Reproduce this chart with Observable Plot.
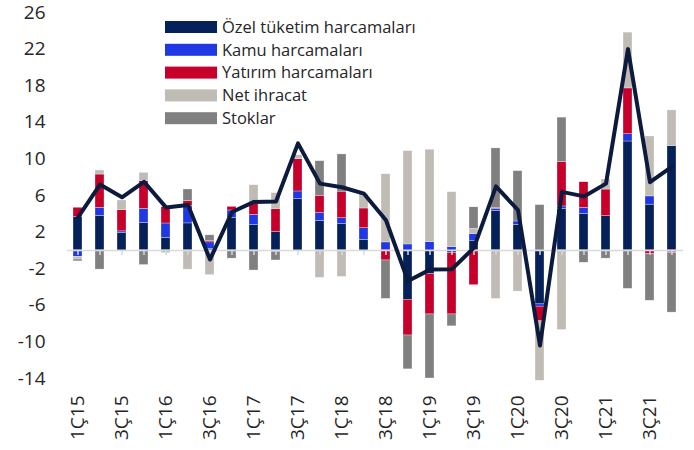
<!DOCTYPE html>
<html>
<head>
<meta charset="utf-8">
<script src="https://cdn.jsdelivr.net/npm/d3@7"></script>
<script src="https://cdn.jsdelivr.net/npm/@observablehq/plot@0.6"></script>
<style>
  body { margin: 0; background: #fff; }
  svg { display: block; overflow: visible; }
</style>
</head>
<body>
<div id="chart"></div>
<script>
const quarters = ["1Ç15","2Ç15","3Ç15","4Ç15","1Ç16","2Ç16","3Ç16","4Ç16",
  "1Ç17","2Ç17","3Ç17","4Ç17","1Ç18","2Ç18","3Ç18","4Ç18",
  "1Ç19","2Ç19","3Ç19","4Ç19","1Ç20","2Ç20","3Ç20","4Ç20",
  "1Ç21","2Ç21","3Ç21","4Ç21"];

const seriesNames = ["Özel tüketim harcamaları","Kamu harcamaları","Yatırım harcamaları","Net ihracat","Stoklar"];
const seriesColors = ["#062059","#2037e4","#c6002b","#c0bbb5","#808080"];

const ozel    = [3.64, 3.78, 1.93, 3.02, 1.38, 2.95, 0.15, 3.56, 2.76, 2.04, 5.6, 3.24, 2.87, 1.16, 0, -5.4, -2.6, -0.3, 1.0, 4.3, 2.8, -5.9, 4.55, 4.0, 3.75, 11.9, 5.0, 11.4];
const kamu    = [-0.7, 0.87, 0.15, 1.53, 1.56, 1.89, 0.73, 0.8, 1.13, -0.2, 0.84, 0.84, 0.65, 1.27, 0.87, 0.65, 0.9, 0.36, 0.8, 0.25, 0.36, -0.25, 0.25, 0.65, 0, 0.8, 0.9, -0.15];
const yatirim = [1.02, 3.64, 2.33, 3.02, 1.78, 0.55, 0.15, 0.4, 1.16, 2.47, 3.53, 1.89, 2.9, 2.15, -1.1, -3.9, -4.4, -6.7, -3.8, 0.1, -0.1, -1.6, 4.84, 2.8, 2.9, 5.0, -0.4, -0.15];
const net     = [-0.3, 0.44, 1.05, 0.91, -0.3, -2.1, -2.7, 0, 2.07, 1.75, 0.44, -3.0, -2.9, 1.56, 7.45, 10.2, 10.1, 6.0, 0.55, -5.3, -4.4, -6.5, -8.7, 0, 1.1, 6.1, 6.55, 3.9];
const stok    = [-0.2, -2.1, 0, -1.6, 0, 1.27, 0.62, -0.9, -2.2, -0.9, 0, 3.78, 4.07, 0, -4.2, -3.7, -7.0, -1.3, 2.36, 6.5, 5.5, 4.95, 4.87, -1.35, -0.9, -4.2, -5.1, -6.5];
const gdp     = [3.6, 7.2, 5.8, 7.5, 4.7, 4.95, -1.0, 4.2, 5.3, 5.35, 11.7, 7.3, 6.9, 6.2, 3.3, -3.35, -2.1, -2.05, 0.3, 7.0, 4.4, -10.4, 6.4, 5.9, 7.3, 22.0, 7.45, 9.15];

const yTicks = [-14, -10, -6, -2, 2, 6, 10, 14, 18, 22, 26];
const xTicks = quarters.filter((d, i) => i % 2 === 0);

const seriesValues = [ozel, kamu, yatirim, net, stok];
const barData = [];
seriesNames.forEach((name, s) => {
  quarters.forEach((q, i) => barData.push({q, series: name, v: seriesValues[s][i]}));
});
const lineData = quarters.map((q, i) => ({q, v: gdp[i]}));

const font = "'Open Sans', 'Noto Sans', sans-serif";

const svg = Plot.plot({
  width: 694,
  height: 450,
  marginLeft: 67,
  marginRight: 11,
  marginTop: 12,
  marginBottom: 72,
  style: {fontFamily: font, fontSize: "19px", color: "#262626", background: "#fff", overflow: "visible"},
  x: {domain: quarters, paddingInner: 0.57, paddingOuter: 0.285, label: null},
  y: {domain: [-14, 26], label: null},
  color: {domain: seriesNames, range: seriesColors},
  marks: [
    Plot.barY(barData, Plot.stackY({
      x: "q", y: "v", fill: "series", order: seriesNames,
      stroke: "#fff", strokeWidth: 0.5, strokeOpacity: 0.6
    })),
    Plot.ruleY([0], {stroke: "#d9d9d9", strokeWidth: 1.5}),
    Plot.ruleX(quarters, {x: d => d, y1: 0, y2: -0.55, stroke: "#d9d9d9", strokeWidth: 1.5}),
    Plot.line(lineData, {x: "q", y: "v", stroke: "#0c1b3d", strokeWidth: 4}),
    Plot.axisY({ticks: yTicks, tickSize: 0, tickPadding: 22, tickFormat: d => String(d), fontSize: 19}),
    Plot.axisX({ticks: xTicks, tickSize: 0, tickPadding: 17, tickRotate: -90, fontSize: 19})
  ]
});

// Legend inside the plot area
const legend = d3.select(svg).append("g")
  .attr("font-family", font).attr("font-size", 16.5).attr("fill", "#262626")
  .attr("text-anchor", "start");
seriesNames.forEach((name, i) => {
  const cy = 27 + i * 22.8;
  legend.append("rect").attr("x", 165).attr("y", cy - 6).attr("width", 52).attr("height", 12).attr("fill", seriesColors[i]);
  legend.append("text").attr("x", 222).attr("y", cy).attr("dy", "0.35em").attr("text-anchor", "start").text(name);
});

document.getElementById("chart").appendChild(svg);
</script>
</body>
</html>
